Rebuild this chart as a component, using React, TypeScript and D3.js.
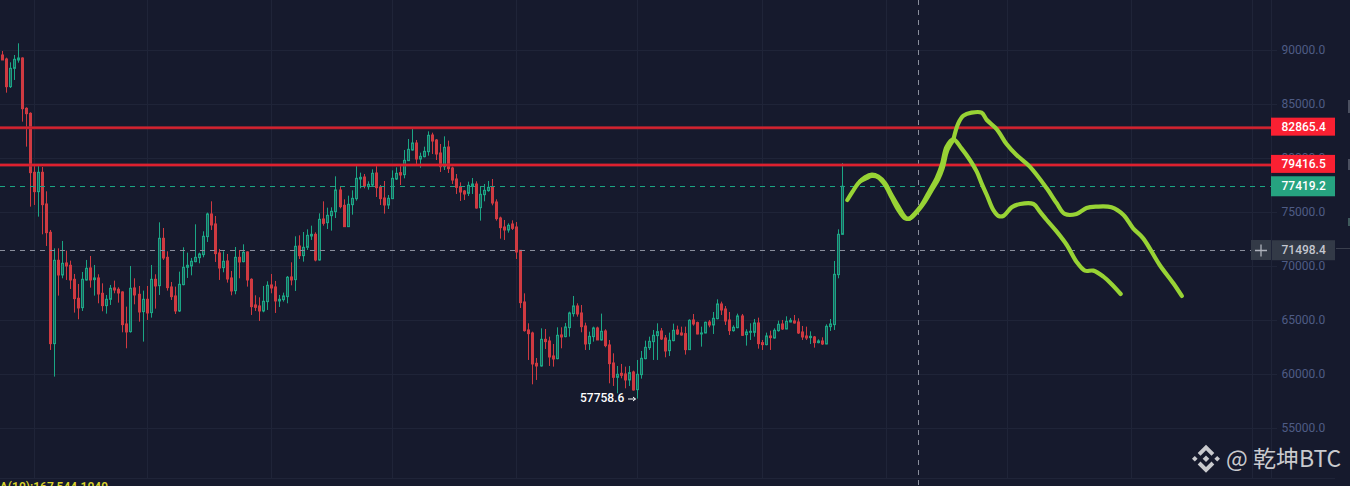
import * as d3 from 'd3';
import { useRef, useEffect } from 'react';

const opens = [
  89574,89204,86643,88340,89112,89297,84637,84174,78712,76922,
  78712,75780,73157,62849,70565,69207,70318,70102,68806,67047,
  66182,68744,69855,68775,68929,67510,66368,66954,68003,67880,
  67633,64670,63961,68003,67417,65812,66954,65720,68806,68219,
  72601,70842,68096,67263,65874,68312,69917,70040,70441,70811,
  71089,72756,74854,73928,71244,69886,70503,68929,67756,70842,
  70441,71336,68806,66429,66337,65874,66738,68281,68096,66800,
  66923,67201,69022,68775,71890,70995,71767,72816,72970,70594,
  74390,74050,74698,75069,77075,75655,73680,75717,76272,78093,
  78278,77383,77537,78648,77352,76334,75686,76272,78093,78679,
  78494,79790,80778,81426,79945,80161,80624,82167,81704,80500,
  79235,81056,79111,78093,77383,76982,76766,77445,77630,75439,
  76643,77013,77352,75964,74482,73649,73371,73927,73649,71489,
  66706,64114,63836,61028,60781,63249,63095,61707,61460,63651,
  63496,64330,65626,66336,65687,64484,62848,63496,64299,63188,
  64021,62725,61058,59731,60102,60040,59485,60225,58590,59978,
  61460,62478,63033,63589,64021,63373,62200,63126,64114,63836,
  63774,62293,65039,64793,63743,63836,64854,64577,65163,66521,
  66058,65039,64052,64330,65410,63681,63898,63898,64762,62941,
  62756,63558,63373,64052,64669,64206,64854,64947,64854,63928,
  63558,63404,63466,62941,63095,62817,64422,64607,69237,72970,
];

const closes = [
  89112,86643,88340,89173,89297,84606,84143,78681,76922,78712,
  75718,73126,62849,70565,69207,70287,70040,68744,67016,66152,
  68806,69824,68744,68929,67448,66368,66954,67972,67818,67541,
  64608,63930,67972,67356,65782,66954,65689,68806,68189,72601,
  70781,68034,67201,65874,68343,69917,70102,70472,70842,71151,
  72787,74854,73836,71182,69855,70472,68837,67726,70842,70410,
  71306,68744,66275,66213,65874,66769,68250,68003,66800,66954,
  67263,68991,68744,71861,70995,71767,72878,72970,70594,74359,
  73988,74729,75099,77075,75532,73680,75748,76303,78155,78247,
  77445,77599,78618,77291,76272,75686,76303,78155,78618,78463,
  79821,80839,81426,79945,80191,80654,82136,81611,80408,79235,
  81025,79050,78000,77321,76889,76704,77507,77630,75408,76673,
  77044,77321,75871,74421,73587,73371,73803,73526,71335,66644,
  64052,63774,60966,60781,63249,63033,61614,61429,63620,63466,
  64391,65687,66336,65595,64422,62817,63527,64299,63188,63990,
  62663,60997,59731,60009,59917,59485,60163,58559,60009,61490,
  62509,63064,63620,63959,63280,62169,63157,64083,63743,63651,
  62293,65008,64669,63743,63836,64823,64577,65194,66521,65965,
  64947,64052,64361,65410,63620,63928,63990,64762,62848,62756,
  63558,63404,64083,64638,64206,64916,65008,64762,63836,63466,
  63373,63527,62941,63095,62817,64453,64669,69267,72970,77419,
];

const highs = [
  89945,89328,88896,89574,90655,89358,84729,84267,79391,79329,
  79206,76953,73373,71676,71676,72355,71460,70534,69300,68374,
  69484,70596,70966,70133,69269,68435,67356,68281,68682,68065,
  67695,66275,70040,68898,68189,67756,68189,70133,69269,74083,
  73558,71398,68559,68127,69515,71768,71274,70781,73898,71274,
  73250,74978,76027,74669,71614,71398,71151,69577,71799,71521,
  72046,71398,68898,67325,67139,68189,68621,69300,68652,67356,
  67571,69114,70379,72787,72878,73186,73433,73772,73155,74914,
  76025,75439,75470,78340,77352,76211,76550,77044,79389,78679,
  78556,77877,78988,79389,77537,77908,76612,78895,79173,79389,
  80778,81796,82815,81704,80531,81086,82506,82383,81796,81333,
  82043,81642,79235,78556,77784,77075,77846,78186,77877,77445,
  77630,77908,78093,76211,74606,74297,73988,74266,74112,71489,
  67508,64731,63959,61521,64268,64206,63496,62817,64361,64361,
  64762,65811,67261,66582,66428,64792,63959,64422,64422,65626,
  64175,63188,61953,60781,60966,60719,60781,60349,61336,62169,
  63126,63496,64114,64731,64299,63651,63867,64700,64515,64422,
  64422,65101,65595,64885,64422,64885,65039,65780,66953,66737,
  66336,65780,64546,65626,65595,64175,64731,65132,65255,63188,
  63867,64052,64268,64978,65039,65379,65225,65502,65194,64484,
  64422,63990,63558,63249,63435,64638,65132,70502,73433,79574,
];

const lows = [
  89112,86087,86519,87260,88865,83403,81088,75533,75687,74607,
  72972,71892,62263,59795,67294,68898,68744,67911,65720,65102,
  65874,68682,68034,67294,66584,65843,65627,66429,67510,66645,
  63899,62418,63868,66491,64886,63035,65041,65257,66090,67356,
  70596,67756,66893,65596,65782,68250,68929,69176,70379,70287,
  70842,72262,73373,70410,68744,69454,68497,67325,67417,68898,
  70379,68127,65504,65874,64948,65751,65967,67510,65689,66245,
  66738,66584,68250,67726,70687,70440,71520,72446,70471,70532,
  73773,73464,73310,74482,75377,73680,73649,74791,76087,77229,
  77229,77105,77445,76427,75686,74884,75316,76272,78000,77537,
  78155,79759,80716,79389,79142,80099,80253,80408,79852,78741,
  78926,78649,77630,76704,76056,76149,76519,76704,75346,74236,
  76025,76920,75655,74236,72569,72446,73125,73371,70687,66150,
  63959,61336,59083,59485,60719,62354,60781,60719,61398,62416,
  63435,63496,65348,65348,63898,62262,62262,63033,63188,63126,
  62509,59176,58929,58250,59639,58713,58929,58497,57759,59608,
  61398,62262,61336,61336,63188,61583,61706,63064,63651,63589,
  61830,62262,64515,63712,62571,63805,64361,63743,65101,65502,
  64577,63651,63959,64268,63558,62663,63188,63496,62385,62262,
  62694,62262,63311,63959,64114,64175,64823,64700,63743,63188,
  63188,62817,62478,62879,62725,62786,64021,64114,68897,72940,
];

const priceTicks = [90000, 85000, 80000, 75000, 70000, 65000, 60000, 55000];
// month starts, counted in bars from the first candle
const monthBars = [8, 36, 67, 97, 128, 158, 189, 220, 250, 281, 311];

const resistanceLines = [82865.4, 79416.5];
const lastPrice = 77419.2;
const crosshairPrice = 71498.4;
const crosshairBar = 227.9;
const lowestPrice = 57758.6;
const lowestBar = 158;

// hand drawn forecast, [bar, price]
const sketchMain: [number, number][] = [
  [210.2,76149],[211.5,76920],[212.9,77692],[214.6,78248],[216.3,78494],[217.9,78309],[219.6,77692],[221.2,76612],
  [222.9,75532],[224.6,74544],[225.5,74390],[227.0,74915],[228.7,75686],[230.8,77075],[232.4,78155],[233.7,79389],
  [234.9,81087],[236.6,81766],[238.6,80932],[240.7,79852],[242.4,78772],[243.6,77692],[244.9,76612],[246.5,75223],
  [247.8,74668],[249.0,74668],[251.1,75470],[253.2,75779],[256.5,75779],[258.1,75069],[259.8,74297],[262.3,73217],
  [264.8,71983],[267.2,70440],[269.3,69607],[271.4,69607],[273.9,69051],[275.9,68372],[278.2,67446],
];
const sketchBranch: [number, number][] = [
  [236.6,81766],[237.8,83247],[239.1,83957],[241.1,84234],[243.6,84234],[244.9,83555],[247.4,82691],[249.8,81333],
  [252.3,80315],[255.6,79235],[259.8,77229],[262.3,75840],[264.3,74853],[267.2,74853],[269.7,75408],[272.2,75532],
  [275.9,75470],[278.9,74760],[281.3,73526],[283.8,72600],[287.9,70131],[291.3,68434],[293.4,67261],
];
const sketchRetrace: [number, number][] = [
  [213.4,77900],[215.0,78186],[216.3,78371],[217.9,78247],[219.6,77538],[221.2,76396],[222.9,75223],[224.6,74452],[225.8,74452],
  [227.6,75069],[229.5,75995],[231.6,77322],[232.8,78062],[233.9,79080],[235.1,80778],[236.7,81766],
];

const UP = '#1ba584';
const UP_FILL = '#1f5d5c';
const DOWN = '#cf3a41';
const BG = '#161a2d';
const GRID = '#1f2438';
const TICK = '#4f5c85';
const FONT = 'Roboto, sans-serif';

const PlotRight = 1271;
const AxisRight = 1335;

const App = () => {
  const ref = useRef<SVGSVGElement>(null);

  useEffect(() => {
    if (!ref.current) return;
    const svg = d3.select(ref.current);
    svg.selectAll('*').remove();

    const x = d3.scaleLinear().domain([0, 209]).range([2.33, 842.5]);
    const y = d3.scaleLinear().domain([55000, 90000]).range([428.4, 50.4]);
    const crisp = (v: number) => Math.round(v - 0.5) + 0.5;

    svg.append('rect').attr('width', 1350).attr('height', 486).attr('fill', BG);

    // grid
    svg.append('g').selectAll('line').data(monthBars).enter().append('line')
      .attr('x1', d => crisp(x(d))).attr('x2', d => crisp(x(d)))
      .attr('y1', 0).attr('y2', 478)
      .attr('stroke', GRID);
    svg.append('g').selectAll('line').data(priceTicks).enter().append('line')
      .attr('x1', 0).attr('x2', 1277)
      .attr('y1', d => crisp(y(d))).attr('y2', d => crisp(y(d)))
      .attr('stroke', GRID);
    svg.append('line').attr('x1', PlotRight + 0.5).attr('x2', PlotRight + 0.5).attr('y1', 0).attr('y2', 478).attr('stroke', GRID);
    svg.append('line').attr('x1', 0).attr('x2', AxisRight).attr('y1', 478.5).attr('y2', 478.5).attr('stroke', GRID);

    // price ticks
    svg.append('g').selectAll('text').data(priceTicks).enter().append('text')
      .attr('x', 1281.5).attr('y', d => y(d) + 3.4)
      .attr('fill', TICK).attr('font-family', FONT).attr('font-size', 12)
      .text(d => d3.format('.1f')(d));

    // candles
    const candles = svg.append('g').selectAll('g').data(opens.map((_, i) => i)).enter().append('g');
    candles.append('line')
      .attr('x1', i => crisp(x(i))).attr('x2', i => crisp(x(i)))
      .attr('y1', i => y(highs[i])).attr('y2', i => y(lows[i]))
      .attr('stroke', i => closes[i] >= opens[i] ? UP : DOWN);
    candles.append('rect')
      .attr('x', i => crisp(x(i)) - 1).attr('width', 2)
      .attr('y', i => y(Math.max(opens[i], closes[i])))
      .attr('height', i => Math.abs(y(opens[i]) - y(closes[i])))
      .attr('fill', i => closes[i] >= opens[i] ? UP_FILL : DOWN)
      .attr('stroke', i => closes[i] >= opens[i] ? UP : DOWN);

    // last price + crosshair
    svg.append('line').attr('x1', 0).attr('x2', PlotRight)
      .attr('y1', crisp(y(lastPrice))).attr('y2', crisp(y(lastPrice)))
      .attr('stroke', UP).attr('stroke-dasharray', '5 5');
    svg.append('line').attr('x1', PlotRight).attr('x2', 1277)
      .attr('y1', crisp(y(lastPrice))).attr('y2', crisp(y(lastPrice)))
      .attr('stroke', '#ffffff');
    svg.append('line').attr('x1', 0).attr('x2', 1251)
      .attr('y1', crisp(y(crosshairPrice))).attr('y2', crisp(y(crosshairPrice)))
      .attr('stroke', '#8a8e9c').attr('stroke-dasharray', '5 5');
    svg.append('line').attr('x1', crisp(x(crosshairBar))).attr('x2', crisp(x(crosshairBar)))
      .attr('y1', 0).attr('y2', 486)
      .attr('stroke', '#8a8e9c').attr('stroke-dasharray', '5 5');

    // resistance lines
    resistanceLines.forEach((p, i) => {
      svg.append('line').attr('x1', 0).attr('x2', PlotRight).attr('y1', y(p) + 0.3).attr('y2', y(p) + 0.3)
        .attr('stroke', '#a82732').attr('stroke-width', 2.8);
      svg.append('line').attr('x1', 0).attr('x2', PlotRight).attr('y1', y(p) + 0.3).attr('y2', y(p) + 0.3)
        .attr('stroke', i === 0 ? '#d8202e' : '#f01f2f').attr('stroke-width', 1.4);
    });

    // price tags
    const tag = (p: number, x0: number, fill: string, color: string, h: number, dy: number) => {
      svg.append('rect').attr('x', x0).attr('y', y(p) - h / 2 + dy).attr('width', AxisRight - x0).attr('height', h).attr('fill', fill);
      svg.append('text').attr('x', 1281.5).attr('y', y(p) + 4 + dy * 0.5)
        .attr('fill', color).attr('font-family', FONT).attr('font-size', 12).attr('font-weight', 500)
        .text(d3.format('.1f')(p));
    };
    resistanceLines.forEach(p => tag(p, 1271, '#fa2032', '#ffffff', 18, -0.8));
    tag(lastPrice, 1271, '#26a380', '#ffffff', 20, 0);
    tag(crosshairPrice, 1272, '#333a47', '#c3c6cf', 20, 0);

    // crosshair + button
    svg.append('rect').attr('x', 1251).attr('y', 240).attr('width', 20).attr('height', 20).attr('fill', '#333a47');
    svg.append('path').attr('d', 'M1255 250.5H1267M1261 244.5V256.5').attr('stroke', '#aeb2bc').attr('stroke-width', 1.3);

    // side tabs, cut by the right edge
    svg.append('rect').attr('x', 1348).attr('y', 100).attr('width', 2).attr('height', 13).attr('fill', '#4b5060');
    svg.append('rect').attr('x', 1348).attr('y', 159).attr('width', 2).attr('height', 11).attr('fill', '#4b5060');
    svg.append('rect').attr('x', 1348).attr('y', 218).attr('width', 2).attr('height', 8).attr('fill', '#3f5a5c');
    svg.append('line').attr('x1', 1336).attr('x2', 1350).attr('y1', 248.5).attr('y2', 248.5).attr('stroke', '#3a3f4d');

    // lowest price marker
    svg.append('text').attr('x', 580).attr('y', 401.5)
      .attr('fill', '#ffffff').attr('font-family', FONT).attr('font-size', 12).attr('font-weight', 500)
      .text(d3.format('.1f')(lowestPrice));
    const arrowX = x(lowestBar);
    svg.append('path')
      .attr('d', `M${arrowX - 9.5} 399H${arrowX - 2}M${arrowX - 4.5} 397L${arrowX - 2} 399L${arrowX - 4.5} 401`)
      .attr('fill', 'none').attr('stroke', '#ffffff');

    // forecast strokes
    const sketch = d3.line<[number, number]>()
      .x(d => x(d[0])).y(d => y(d[1]))
      .curve(d3.curveCatmullRom);
    [sketchMain, sketchBranch, sketchRetrace].forEach(points => {
      svg.append('path').attr('d', sketch(points))
        .attr('fill', 'none').attr('stroke', '#98d335').attr('stroke-width', 4.2)
        .attr('stroke-linecap', 'round').attr('stroke-linejoin', 'round');
    });

    // indicator text, cut by the bottom edge
    svg.append('text').attr('x', 108).attr('y', 490.5).attr('text-anchor', 'end')
      .attr('fill', '#d9d22c').attr('font-family', FONT).attr('font-size', 12).attr('font-weight', 600)
      .text('MA(10):167,544.1049');

    // watermark
    const logo = svg.append('g').attr('transform', 'translate(1206,458.7)').attr('fill', '#c9cace');
    logo.append('path').attr('d', 'M0 -14L8.3 -5.7L5.5 -2.9L0 -8.4L-5.5 -2.9L-8.3 -5.7Z');
    logo.append('path').attr('d', 'M0 14L8.3 5.7L5.5 2.9L0 8.4L-5.5 2.9L-8.3 5.7Z');
    logo.append('path').attr('d', 'M0 -3.3L3.3 0L0 3.3L-3.3 0Z');
    logo.append('path').attr('d', 'M-11.2 -2.8L-8.4 0L-11.2 2.8L-14 0Z');
    logo.append('path').attr('d', 'M11.2 -2.8L14 0L11.2 2.8L8.4 0Z');
    svg.append('text').attr('x', 1226).attr('y', 467)
      .attr('fill', '#c9cace').attr('font-family', '"Noto Sans CJK SC", "Noto Sans", sans-serif').attr('font-size', 23)
      .text('@ 乾坤BTC');
  }, []);

  return (<svg ref={ref} width={1350} height={486} style={{ position: 'absolute', left: 0, top: 0, display: 'block' }}></svg>);
};

export default App;
